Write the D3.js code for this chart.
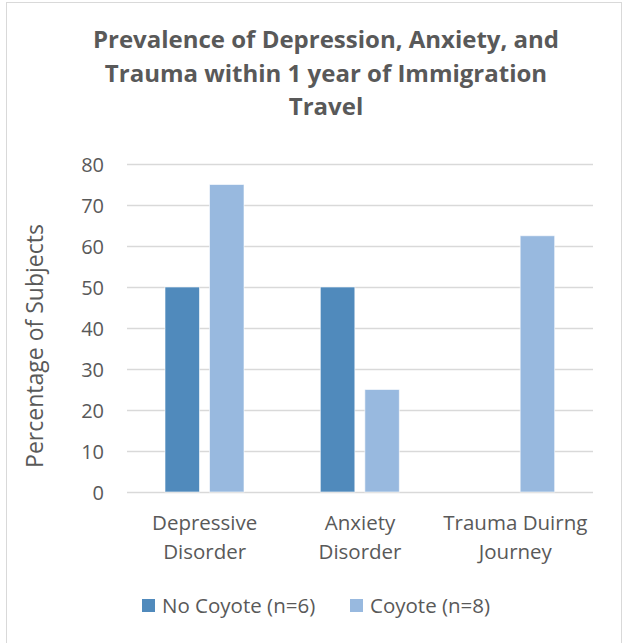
<!DOCTYPE html>
<html>
<head>
<meta charset="utf-8">
<script src="https://cdn.jsdelivr.net/npm/d3@7"></script>
<style>
  html, body { margin: 0; padding: 0; background: #fff; }
  svg { display: block; font-family: "Open Sans", sans-serif; }
</style>
</head>
<body>
<svg id="chart" width="624" height="643"></svg>
<script>
const titleLines = ["Prevalence of Depression, Anxiety, and", "Trauma within 1 year of Immigration", "Travel"];
const categories = ["Depressive Disorder", "Anxiety Disorder", "Trauma Duirng Journey"];
const categoryLines = [["Depressive", "Disorder"], ["Anxiety", "Disorder"], ["Trauma Duirng", "Journey"]];
const seriesNames = ["No Coyote (n=6)", "Coyote (n=8)"];
const noCoyote = [50, 50, 0];
const coyote = [75, 25, 62.5];
const yTicks = [0, 10, 20, 30, 40, 50, 60, 70, 80];
const yTitle = "Percentage of Subjects";
const colors = ["#508ABC", "#98B9DF"];

const svg = d3.select("#chart");
const textColor = "#595959";

svg.append("rect").attr("x", 6.5).attr("y", 2.5).attr("width", 615).attr("height", 645)
  .attr("fill", "#fff").attr("stroke", "#d9d9d9").attr("stroke-width", 1);

const plot = { left: 127, right: 593, top: 164, bottom: 492 };

const x0 = d3.scaleBand().domain(categories).range([plot.left, plot.right]).paddingInner(0).paddingOuter(0);
const x1 = d3.scaleBand().domain(seriesNames).range([38, 117]).paddingInner(0.225).paddingOuter(0);
const y = d3.scaleLinear().domain([0, 80]).range([plot.bottom, plot.top]);

// gridlines
svg.append("g").selectAll("line").data(yTicks).join("line")
  .attr("x1", plot.left).attr("x2", plot.right)
  .attr("y1", d => Math.round(y(d)) + 0.5).attr("y2", d => Math.round(y(d)) + 0.5)
  .attr("stroke", "#d9d9d9").attr("stroke-width", 1.3);

// y axis labels
const yAxis = d3.axisLeft(y).tickValues(yTicks).tickSize(0).tickPadding(0);
const gy = svg.append("g").attr("transform", `translate(104,0)`).call(yAxis);
gy.select(".domain").remove();
gy.selectAll("text").attr("fill", textColor).style("font-size", "20px")
  .style("font-family", "'Open Sans', sans-serif").attr("dy", "0.35em");

// bars
const data = categories.map((c, i) => ({ cat: c, vals: [noCoyote[i], coyote[i]] }));
const groups = svg.append("g").selectAll("g").data(data).join("g")
  .attr("transform", d => `translate(${x0(d.cat)},0)`);
groups.selectAll("rect").data(d => d.vals.map((v, j) => ({ v, s: seriesNames[j], j })))
  .join("rect")
  .filter(d => d.v > 0)
  .attr("x", d => x1(d.s)).attr("width", x1.bandwidth())
  .attr("y", d => y(d.v)).attr("height", d => y(0) - y(d.v))
  .attr("fill", d => colors[d.j]).attr("stroke", "#fff").attr("stroke-opacity", 0.6).attr("stroke-width", 1);

// category labels
const xl = svg.append("g");
categories.forEach((c, i) => {
  const cx = x0(c) + x0.bandwidth() / 2;
  const t = xl.append("text").attr("text-anchor", "middle").attr("fill", textColor)
    .style("font-size", "20.5px");
  categoryLines[i].forEach((ln, k) => {
    t.append("tspan").attr("x", cx).attr("y", 530 + k * 29).text(ln);
  });
});

// y title
svg.append("text").attr("transform", "translate(43,346) rotate(-90)")
  .attr("text-anchor", "middle").attr("fill", textColor).style("font-size", "23px")
  .text(yTitle);

// title
const title = svg.append("text").attr("text-anchor", "middle").attr("fill", textColor)
  .style("font-size", "24px").style("font-weight", "bold");
titleLines.forEach((ln, k) => {
  title.append("tspan").attr("x", 326).attr("y", 48 + k * 33.5).text(ln);
});

// legend
const legend = svg.append("g");
const legendItems = [{ x: 142, name: seriesNames[0], c: colors[0] }, { x: 350, name: seriesNames[1], c: colors[1] }];
legendItems.forEach(it => {
  legend.append("rect").attr("x", it.x).attr("y", 599).attr("width", 13).attr("height", 13).attr("fill", it.c);
  legend.append("text").attr("x", it.x + 20).attr("y", 613).attr("fill", textColor)
    .style("font-size", "20.5px").text(it.name);
});
</script>
</body>
</html>
